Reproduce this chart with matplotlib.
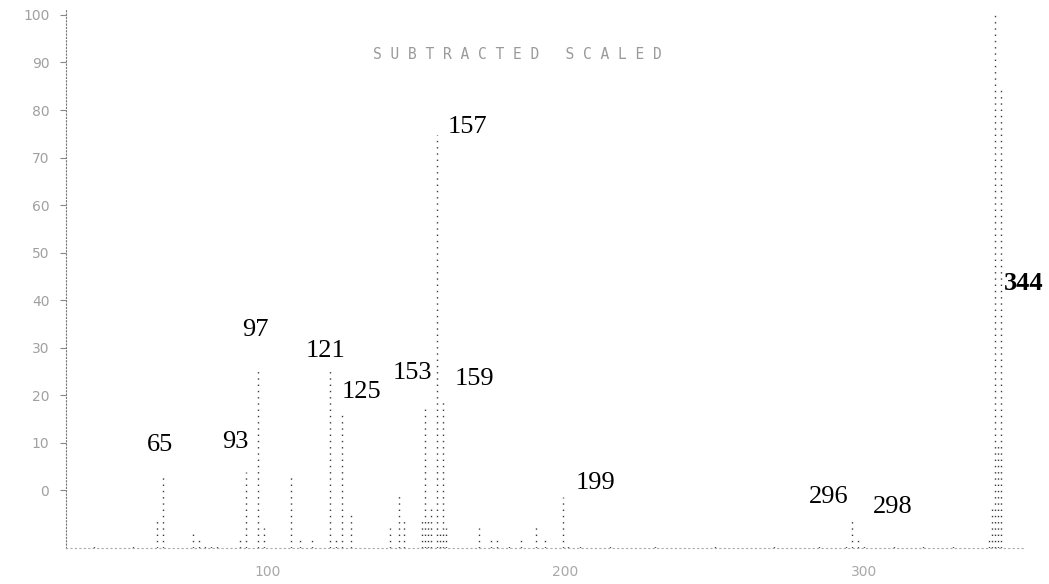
import matplotlib
matplotlib.use("Agg")
import matplotlib.pyplot as plt

# peak list: m/z and abundance on the printed scale (axis floor sits below 0)
mz = [42, 55, 63, 65, 75, 77, 79, 81, 83, 91, 93, 97, 99, 108, 111, 115,
      121, 123, 125, 128, 141, 144, 146, 152, 153, 154, 155, 157, 158, 159,
      160, 171, 175, 177, 181, 185, 190, 193, 199, 201, 205, 215, 230, 250,
      270, 285, 294, 296, 298, 300, 310, 320, 330, 342, 343, 344, 345, 346]
abund = [-11.3, -11.0, -6.2, 2.8, -8.7, -10.4, -11.0, -10.8, -11.0, -10.0,
         3.9, 25.8, -7.9, 3.7, -10.5, -10.0,
         25.3, -10.0, 15.9, -4.7, -7.9, -0.5, -5.6, -5.8, 18.0, -6.2, -3.0,
         74.8, -9.0, 18.6,
         -7.9, -7.9, -10.0, -10.5, -11.0, -10.5, -6.8, -10.0, -1.4, -11.0,
         -11.0, -11.3, -11.5, -11.3, -11.5, -11.2, -11.0, -6.0, -10.0, -11.2,
         -11.5, -11.5, -11.2, -10.0, -3.0, 100.0, 10.0, 85.0]

# labelled peaks and where their numbers sit (m/z, abundance of text anchor)
peak_labels = ["65", "93", "97", "121", "125", "153", "157", "159",
               "199", "296", "298", "344"]
label_x = [59.7, 84.9, 91.6, 113.0, 124.8, 142.2, 160.4, 163.0,
           203.3, 281.5, 303.0, 346.9]
label_y = [9.6, 10.2, 33.8, 29.3, 20.7, 24.7, 76.4, 23.4,
           1.6, -1.4, -3.5, 43.6]

x_ticks = [100, 200, 300]
y_ticks = [0, 10, 20, 30, 40, 50, 60, 70, 80, 90, 100]

YMIN, YMAX = -12.1, 101.0
XMIN, XMAX = 32.5, 354.0


def main():
    fig = plt.figure(figsize=(10.49, 5.84), dpi=100)
    ax = fig.add_axes([0.0629, 0.0616, 0.914, 0.921])
    ax.set_xlim(XMIN, XMAX)
    ax.set_ylim(YMIN, YMAX)

    # dotted stems from the floor of the plot
    ax.vlines(mz, YMIN, abund, colors="#3a3a3a", linewidth=1.0,
              linestyles=(0, (1, 3.5)))

    for txt, x, y in zip(peak_labels, label_x, label_y):
        ax.text(x, y, txt, ha="left", va="center", fontsize=19,
                family="Liberation Serif",
                fontweight="bold" if txt == "344" else "normal",
                color="black")

    ax.text(183.8, 91.6, "S U B T R A C T E D   S C A L E D", ha="center",
            va="center", fontsize=10.5, family="DejaVu Sans Mono",
            color="#9a9a9a")

    for side in ["top", "right"]:
        ax.spines[side].set_visible(False)
    ax.spines["left"].set_linestyle((0, (1, 2)))
    ax.spines["left"].set_color("#777777")
    ax.spines["bottom"].set_linestyle((0, (1, 3)))
    ax.spines["bottom"].set_color("#aaaaaa")
    ax.spines["bottom"].set_linewidth(0.8)

    ax.set_xticks(x_ticks)
    ax.set_xticklabels([str(v) for v in x_ticks])
    ax.tick_params(axis="x", length=0, pad=12, labelsize=10,
                   labelcolor="#a8a8a8")
    ax.set_yticks(y_ticks)
    ax.set_yticklabels([str(v) for v in y_ticks])
    ax.tick_params(axis="y", length=4, width=0.8, color="#888888", pad=8,
                   labelsize=10, labelcolor="#a0a0a0")

    fig.savefig("out.png", dpi=100)


if __name__ == "__main__":
    main()
